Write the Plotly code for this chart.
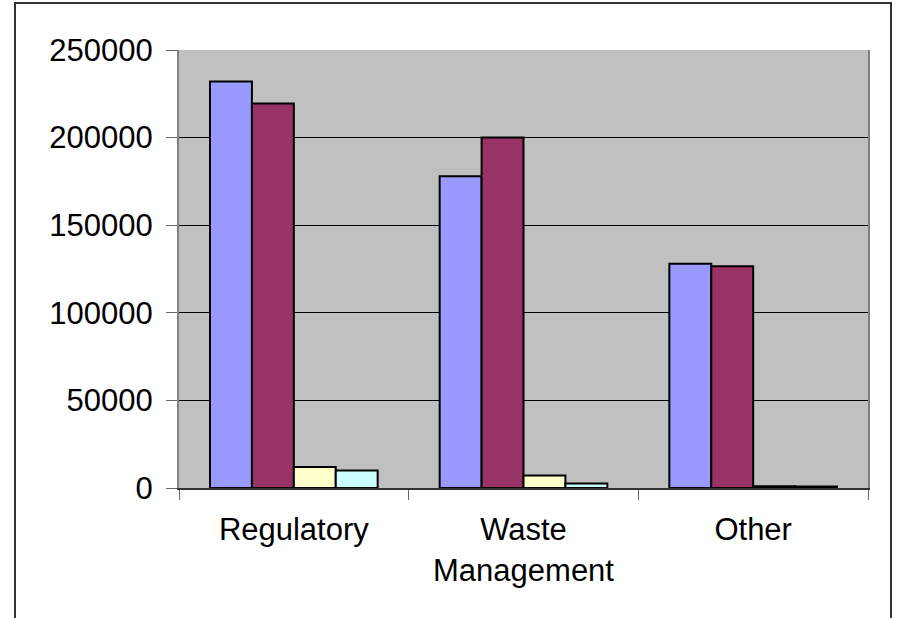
import plotly.graph_objects as go

categories = ["Regulatory", "Waste<br>Management", "Other"]
series_names = ["Series 1", "Series 2", "Series 3", "Series 4"]
series_1 = [232000, 178000, 128000]
series_2 = [219500, 200000, 126500]
series_3 = [12000, 7200, 1000]
series_4 = [10000, 2500, 800]
colors = ["#9999FF", "#993366", "#FFFFCC", "#CCFFFF"]
y_ticks = [0, 50000, 100000, 150000, 200000, 250000]

fig = go.Figure()
for name, vals, col in zip(series_names, [series_1, series_2, series_3, series_4], colors):
    fig.add_trace(go.Bar(x=categories, y=vals, name=name,
                         marker=dict(color=col, line=dict(color="black", width=2))))

W, H = 903, 618
L, R, T, B = 179, 35, 50, 130
pw, ph = W - L - R, H - T - B

def px_x(p):
    return (p - L) / pw

def px_y(p):
    return (H - B - p) / ph

fig.add_shape(type="rect", xref="paper", yref="paper",
              x0=px_x(15), x1=px_x(891), y0=px_y(625), y1=px_y(3),
              line=dict(color="#333333", width=2), layer="below")

fig.update_layout(
    width=W, height=H,
    margin=dict(l=L, r=R, t=T, b=B, pad=0),
    paper_bgcolor="white", plot_bgcolor="#C0C0C0",
    barmode="group", bargap=0.27, bargroupgap=0,
    showlegend=False,
    font=dict(family="Liberation Sans, Arial, sans-serif", size=31, color="black"),
)
fig.update_xaxes(showgrid=False, tickson="boundaries", ticks="outside", ticklen=10,
                 tickcolor="#666666", showline=True, linecolor="#333333", linewidth=2,
                 ticklabelstandoff=13, zeroline=False)
fig.update_yaxes(range=[0, 250000], tickvals=y_ticks, ticktext=[str(v) for v in y_ticks],
                 showgrid=True, gridcolor="black", gridwidth=1,
                 ticks="outside", ticklen=11, tickcolor="#666666",
                 showline=True, linecolor="#808080", linewidth=2, mirror=True,
                 ticklabelstandoff=7, zeroline=False)

fig.write_html("out.html")
